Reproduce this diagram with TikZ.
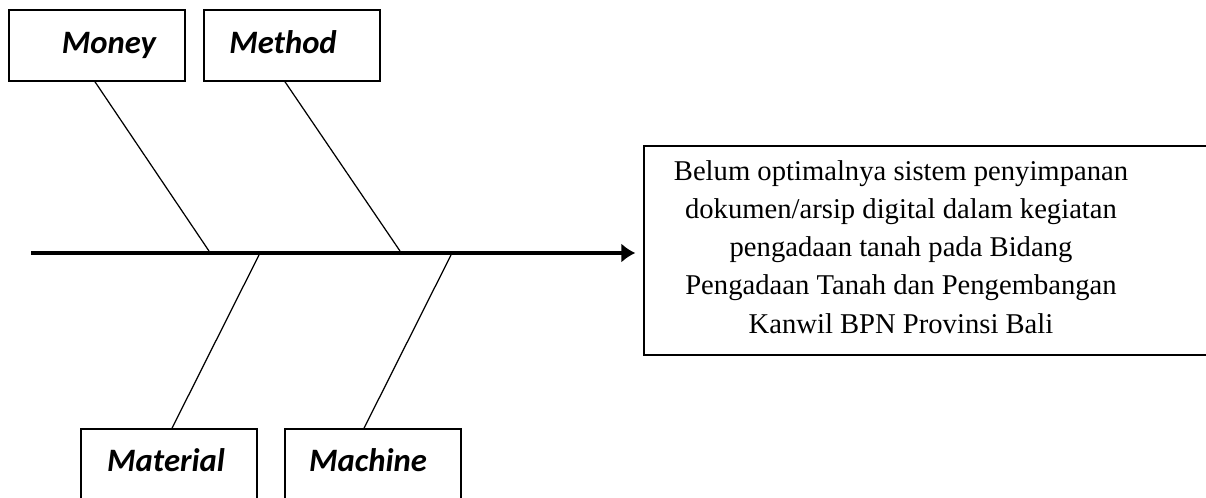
\documentclass[tikz,border=0pt]{standalone}
\usepackage{fontspec}
\setmainfont{Liberation Serif}
\newfontfamily\calibri{Carlito}
\usetikzlibrary{arrows.meta}

\begin{document}
\begin{tikzpicture}[x=0.02cm, y=-0.02cm,
    catbox/.style={draw, line width=0.9pt, rectangle, minimum width=3.52cm, minimum height=1.42cm},
    cat/.style={font=\calibri\bfseries\itshape\fontsize{18.6}{20}\selectfont, inner sep=0pt, anchor=base},
    bone/.style={line width=0.7pt},
    spine/.style={line width=2pt, -{Latex[length=8pt, width=11pt]}, shorten >=4.5pt}]
  \useasboundingbox (0,0) rectangle (1206,497);
  \clip (0,0) rectangle (1206,497);

  % causes
  \node[catbox] (moneybox) at (97,45.5) {};
  \node[catbox] (methodbox) at (292,45.5) {};
  \node[catbox] (materialbox) at (169,464.5) {};
  \node[catbox] (machinebox) at (373,464.5) {};
  \node[cat] (money) at (109,53) {Money};
  \node[cat] (method) at (283,53) {Method};
  \node[cat] (material) at (166,471) {Material};
  \node[cat] (machine) at (368,471) {Machine};

  % effect
  \node[draw, line width=0.8pt, rectangle, minimum width=11.92cm, minimum height=4.18cm] (effect) at (942,250.5) {};
  \node[align=center, inner sep=0pt, font=\fontsize{16.3}{21.7}\selectfont] (problem) at (901,247)
    {Belum optimalnya sistem penyimpanan\\
     dokumen/arsip digital dalam kegiatan\\
     pengadaan tanah pada Bidang\\
     Pengadaan Tanah dan Pengembangan\\
     Kanwil BPN Provinsi Bali};

  % spine and bones
  \coordinate (tail) at (31,253);
  \coordinate (moneyjoint) at (209,251);
  \coordinate (methodjoint) at (400,251);
  \coordinate (materialjoint) at (259,255);
  \coordinate (machinejoint) at (451,255);

  \draw[spine] (tail) -- (tail -| effect.west);
  \draw[bone] ([xshift=-0.04cm]moneybox.south) -- (moneyjoint);
  \draw[bone] ([xshift=-0.14cm]methodbox.south) -- (methodjoint);
  \draw[bone] (materialjoint) -- ([xshift=0.06cm]materialbox.north);
  \draw[bone] (machinejoint) -- ([xshift=-0.18cm]machinebox.north);
\end{tikzpicture}
\end{document}
